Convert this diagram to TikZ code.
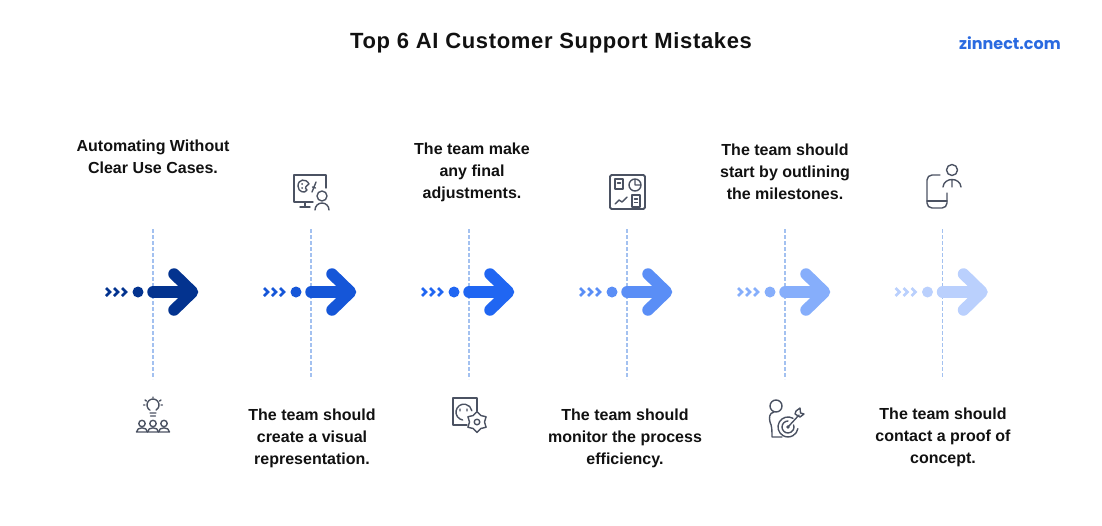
\documentclass[tikz,border=0pt]{standalone}
\usepackage{fontspec}
\setmainfont{Liberation Sans}
\newfontfamily\logofont{Poppins}
\newfontfamily\titlefont[LetterSpace=3]{Liberation Sans}
\tikzset{>=latex}
\definecolor{iconcol}{HTML}{4B5262}
\definecolor{guidecol}{HTML}{A3C1F0}
\definecolor{logocol}{HTML}{2A6AE0}
\definecolor{titlecol}{HTML}{111111}
\definecolor{stepa}{HTML}{03338F}
\definecolor{stepb}{HTML}{1556D8}
\definecolor{stepc}{HTML}{2066F2}
\definecolor{stepd}{HTML}{5A8EF6}
\definecolor{stepe}{HTML}{86AEFB}
\definecolor{stepf}{HTML}{BAD0FD}
\tikzset{
  icon/.style={draw=iconcol,line width=1.4pt,line cap=round,line join=round},
  caption/.style={align=center,font=\fontsize{16}{22}\selectfont\bfseries,text=titlecol,inner sep=0pt},
}

\begin{document}
\begin{tikzpicture}[x=1pt,y=-1pt]
  \useasboundingbox (0,0) rectangle (1102,525);
  \node[font=\fontsize{22}{26}\selectfont\titlefont\bfseries,text=titlecol,inner sep=0pt] (title) at (551,43) {Top 6 AI Customer Support Mistakes};
  \node[font=\fontsize{16}{20}\selectfont\logofont\bfseries,text=logocol,inner sep=0pt] (logo) at (1010,43) {zinnect.com};
  % guide lines and arrows
  \foreach \cx/\col in {153/stepa,311/stepb,469/stepc,627/stepd,785/stepe,942.5/stepf} {
    \draw[guidecol,line width=1.6pt,dash pattern=on 3.5pt off 2.5pt] (\cx,229) -- (\cx,379);
    \foreach \dx in {-46,-38,-30}
      \draw[\col,line width=2.6pt,line join=miter] (\cx+\dx-1,288) -- (\cx+\dx+3,292) -- (\cx+\dx-1,296);
    \fill[\col] (\cx-15,292) circle (5.5);
    \draw[\col,line width=11.5pt,line cap=round] (\cx,292) -- (\cx+36,292);
    \draw[\col,line width=11.5pt,line cap=round,line join=round] (\cx+21,274) -- (\cx+39.5,292) -- (\cx+21,310);
  }
  % captions
  \node[caption] (capa) at (153,157) {Automating Without\\Clear Use Cases.};
  \node[caption] (capb) at (312,438) {The team should\\create a visual\\representation.};
  \node[caption] (capc) at (472,172) {The team make\\any final\\adjustments.};
  \node[caption] (capd) at (625,438) {The team should\\monitor the process\\efficiency.};
  \node[caption] (cape) at (785,172) {The team should\\start by outlining\\the milestones.};
  \node[caption] (capf) at (943,437) {The team should\\contact a proof of\\concept.};
  % bulb and people
  \draw[icon] (150,410.2) arc (120:420:6) (150,413) -- (156,413) (150.5,416) -- (155.5,416);
  \draw[icon] (153,397) -- (153,398) (145,400) -- (146.5,401) (161,400) -- (159.5,401) (143.5,405) -- (145,405) (162.5,405) -- (161,405);
  \foreach \px in {142,153,164} {
    \draw[icon] (\px,423.5) circle (3.2);
    \draw[icon] (\px-5.5,432) .. controls (\px-5.5,426.5) and (\px+5.5,426.5) .. (\px+5.5,432) -- cycle;
  }
  % monitor and person
  \draw[icon] (326,188) -- (326,175) -- (294,175) -- (294,202) -- (313,202) (305,202) -- (305,207) (300,207) -- (310,207);
  \draw[icon] (322,196) circle (5) (315,210) arc (180:360:7);
  \draw[icon] (309,184) .. controls (306,178) and (298,179) .. (298,186) .. controls (298,192) and (305,194) .. (307,190) .. controls (304,188) and (306,186) .. (309,184);
  \fill[iconcol] (302,184) circle (1) (302,188) circle (1);
  \draw[icon] (312,192) -- (314,187) -- (316,182) (312.5,187) -- (315.5,188);
  % socket and gear
  \draw[icon] (477,411) -- (477,398) -- (453,398) -- (453,425) -- (467,425);
  \draw[icon] (462.6,420) arc (100:350:8) (460,409) -- (460,411) (467,409) -- (467,411);
  \draw[icon,shift={(477,422)}] (30:10.5) -- (60:7.5) -- (90:10.5) -- (120:7.5) -- (150:10.5) -- (180:7.5) -- (210:10.5) -- (240:7.5) -- (270:10.5) -- (300:7.5) -- (330:10.5) -- (0:7.5) -- cycle (0,0) circle (2.8);
  % dashboard
  \draw[icon,line width=1.8pt,rounded corners=1.5pt] (610,175) rectangle (645,209);
  \draw[icon] (615,179) rectangle (623,189) (617.5,183) -- (620.5,183);
  \draw[icon] (635,185) circle (6) (635,185) -- (635,179) (635,185) -- (641,185);
  \draw[icon] (615,204) -- (619,200) -- (622,202) -- (627,197);
  \draw[icon] (632,195) rectangle (640,207) (634.5,199) -- (637.5,199) (634.5,202.5) -- (637.5,202.5);
  % person and target
  \draw[icon] (776,406) circle (6);
  \draw[icon] (774,412) .. controls (769,413) and (769,418) .. (770,422) .. controls (772,426) and (772,431) .. (772,437) -- (782,437);
  \draw[icon] (793,418.3) arc (-60:-350:10) (788,421) arc (-90:-380:6);
  \draw[icon] (788,427) -- (799,415) (795,414) -- (796,411) -- (800,408) (795,414) -- (800,417) -- (804,414) (800,408) -- (800.5,413) -- (804,414);
  \fill[iconcol] (788,427) circle (1.8);
  % phone and person
  \draw[icon,rounded corners=5pt] (940,175) -- (927,175) -- (927,208) -- (947,208) -- (947,193);
  \draw[icon] (927,201) -- (947,201);
  \draw[icon] (952,170) circle (5.5) (943,187) .. controls (944,177) and (960,177) .. (961,187) (952,180) -- (952,187);
\end{tikzpicture}
\end{document}
